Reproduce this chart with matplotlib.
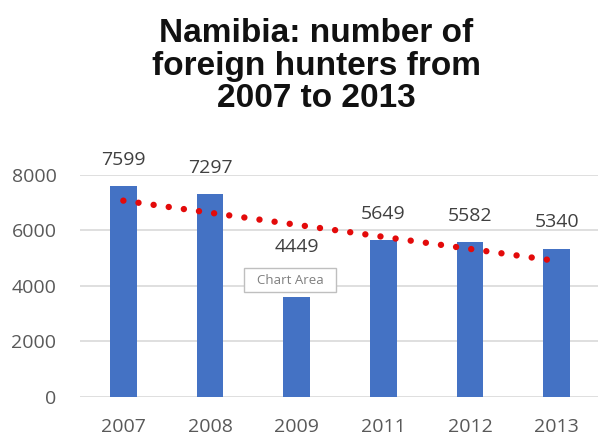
import numpy as np
import matplotlib
matplotlib.use("Agg")
import matplotlib.pyplot as plt
from matplotlib.patches import FancyBboxPatch

# Foreign hunters visiting Namibia per year
years = ["2007", "2008", "2009", "2011", "2012", "2013"]
hunters = [7599, 7297, 4449, 5649, 5582, 5340]
y_ticks = [0, 2000, 4000, 6000, 8000]

BAR_COLOR = "#4472C4"
TREND_COLOR = "#E30A0A"
GRID_COLOR = "#D9D9D9"
TICK_COLOR = "#595959"
LABEL_COLOR = "#404040"

plt.rcParams["font.family"] = ["Open Sans", "DejaVu Sans"]

fig = plt.figure(figsize=(5.98, 4.36), dpi=100)
ax = fig.add_axes([80 / 598, 39.3 / 436, 520 / 598, 221.7 / 436])

x = np.arange(len(years))
bars = ax.bar(x, hunters, width=0.31, color=BAR_COLOR, zorder=2)

# value labels above each bar
for xi, val in zip(x, hunters):
    ax.annotate(str(val), (xi, val), xytext=(0, 19), textcoords="offset points",
                ha="center", va="center", fontsize=14, color=LABEL_COLOR,
                annotation_clip=False)

# linear trendline across the bars
coef = np.polyfit(x + 1, hunters, 1)
trend = np.polyval(coef, x + 1)
ax.plot(x, trend, color=TREND_COLOR, lw=4.6, linestyle=(0, (0.01, 2.38)),
        dash_capstyle="round", zorder=3)

ax.set_xlim(-0.5, 5.5)
ax.set_ylim(0, 8000)
ax.set_yticks(y_ticks)
ax.set_xticks(x)
ax.set_xticklabels(years)
ax.tick_params(axis="both", length=0, labelsize=14, labelcolor=TICK_COLOR)
ax.tick_params(axis="y", pad=17)
ax.tick_params(axis="x", pad=15)
ax.grid(axis="y", color=GRID_COLOR, lw=1.2, zorder=0)
for s in ax.spines.values():
    s.set_visible(False)

fig.text(0.529, 1 - 66 / 436,
         "Namibia: number of\nforeign hunters from\n2007 to 2013",
         ha="center", va="center", fontsize=24, fontweight="bold",
         family="Liberation Sans", linespacing=1.06, color="#111111")

# "Chart Area" hover tip
tip = FancyBboxPatch((244 / 598, 1 - 292 / 436), 92 / 598, 24 / 436,
                     boxstyle="square,pad=0", transform=fig.transFigure,
                     facecolor="white", edgecolor="#BFBFBF", lw=1.0, zorder=10)
fig.patches.append(tip)
shadow = FancyBboxPatch((246 / 598, 1 - 297 / 436), 92 / 598, 6 / 436,
                        boxstyle="square,pad=0", transform=fig.transFigure,
                        facecolor="white", edgecolor="none", zorder=9)
fig.patches.append(shadow)
fig.text(290 / 598, 1 - 280 / 436, "Chart Area", ha="center", va="center",
         fontsize=9.5, color="#7F7F7F", zorder=11)

fig.savefig("out.png", dpi=100)
